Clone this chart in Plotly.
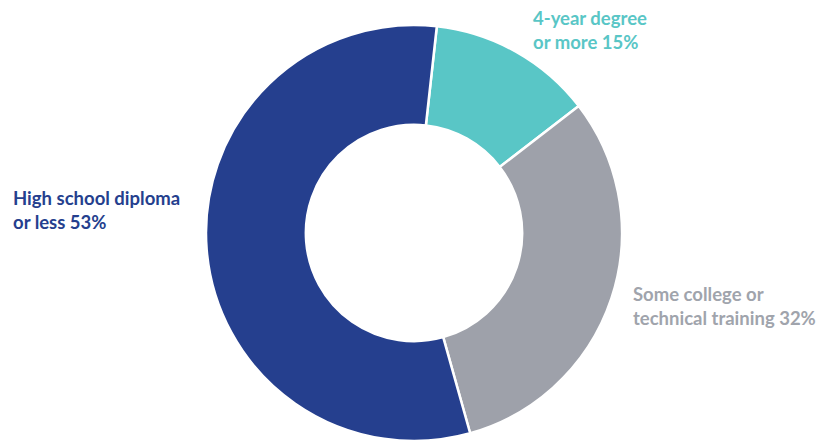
import plotly.graph_objects as go

categories = ["4-year degree or more", "Some college or technical training", "High school diploma or less"]
values = [12.8, 31.1, 56.1]
label_text = ["4-year degree<br>or more 15%", "Some college or<br>technical training 32%", "High school diploma<br>or less 53%"]
colors = ["#59C6C6", "#9EA1AA", "#253F8E"]
text_colors = ["#59C6C6", "#A0A4AC", "#253F8E"]

fig = go.Figure()
fig.add_trace(go.Pie(
    labels=categories,
    values=values,
    hole=0.52,
    sort=False,
    direction="clockwise",
    rotation=6.3,
    marker=dict(colors=colors, line=dict(color="white", width=2.5)),
    textinfo="none",
    hoverinfo="label+percent",
    domain=dict(x=[198/830, 614/830], y=[8/441, 1-17/441]),
    showlegend=False,
))

# left x, vertical centre of the two-line block (pixels)
ann_pos = [(523, 22), (623, 298), (3, 201.5)]
for txt, col, (px, py) in zip(label_text, text_colors, ann_pos):
    fig.add_annotation(
        x=px/830, y=1-py/441, xref="paper", yref="paper",
        text=f"<b>{txt}</b>", showarrow=False,
        xanchor="left", yanchor="middle", align="left",
        font=dict(family="Lato", size=18.5, color=col),
    )

fig.update_layout(
    width=830, height=441,
    margin=dict(l=0, r=0, t=0, b=0),
    paper_bgcolor="white", plot_bgcolor="white",
)
fig.write_html("out.html")
